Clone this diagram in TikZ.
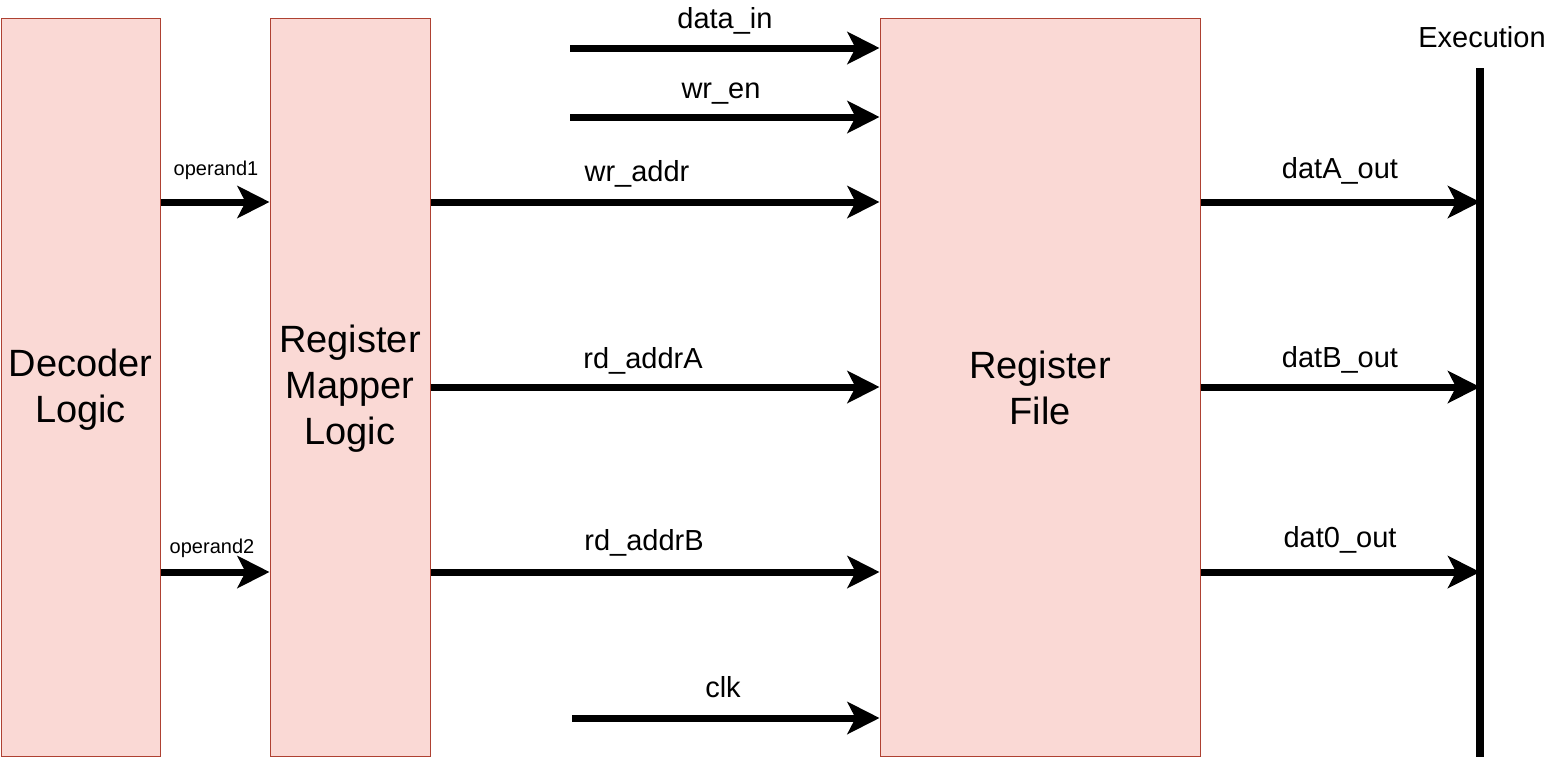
\documentclass[tikz,border=0pt]{standalone}
\usepackage{fontspec}
\setmainfont{Liberation Sans}
\usetikzlibrary{arrows.meta}
\definecolor{boxfill}{HTML}{FAD9D5}
\definecolor{boxline}{HTML}{AE4132}
\tikzset{
  blk/.style={draw=boxline, fill=boxfill, line width=1pt, inner sep=0pt, align=center,
              minimum height=738pt},
  blktxt/.style={inner sep=0pt, align=center, font=\fontsize{38}{46}\selectfont},
  sig/.style={line width=7pt, -{Stealth[length=32pt,width=32pt,inset=8pt]}},
  lbl/.style={anchor=base, inner sep=0pt, font=\fontsize{29}{34}\selectfont},
  slbl/.style={anchor=base, inner sep=0pt, font=\fontsize{20}{24}\selectfont},
  bar/.style={line width=8pt}
}
\begin{document}
\begin{tikzpicture}[x=1pt,y=-1pt]
\useasboundingbox (0,0) rectangle (1549,766);
% blocks
\node[blk, minimum width=159pt] (dec) at (80.5,387) {};
\node[blk, minimum width=160pt] (map) at (350,387) {};
\node[blk, minimum width=320pt] (rf) at (1040,387) {};
\node[blktxt] (dect) at (80.5,390) {Decoder\\Logic};
\node[blktxt] (mapt) at (350,389) {Register\\Mapper\\Logic};
\node[blktxt] (rft) at (1040,388) {Register\\File};
% execution bar
\coordinate (extop) at (1480,68);
\coordinate (exbot) at (1480,757);
\draw[bar] (extop) -- (exbot);
\node[lbl] (exlbl) at (1482,47) {Execution};
% row coordinates
\coordinate (r0) at (0,48);
\coordinate (r1) at (0,117);
\coordinate (r2) at (0,202);
\coordinate (r3) at (0,387);
\coordinate (r4) at (0,572);
\coordinate (r5) at (0,718);
% free starts
\coordinate (din) at (570,48);
\coordinate (wen) at (570,117);
\coordinate (clk) at (572,718);
% operand arrows
\draw[sig] (dec.east |- r2) -- (map.west |- r2);
\draw[sig] (dec.east |- r4) -- (map.west |- r4);
\node[slbl] (op1) at (216,175) {operand1};
\node[slbl] (op2) at (212,553) {operand2};
% register file inputs
\draw[sig] (din) -- (rf.west |- r0);
\draw[sig] (wen) -- (rf.west |- r1);
\draw[sig] (map.east |- r2) -- (rf.west |- r2);
\draw[sig] (map.east |- r3) -- (rf.west |- r3);
\draw[sig] (map.east |- r4) -- (rf.west |- r4);
\draw[sig] (clk) -- (rf.west |- r5);
\node[lbl] (l0) at (725,28) {data\_in};
\node[lbl] (l1) at (721,98) {wr\_en};
\node[lbl] (l2) at (637,181) {wr\_addr};
\node[lbl] (l3) at (643,368) {rd\_addrA};
\node[lbl] (l4) at (644,550) {rd\_addrB};
\node[lbl] (l5) at (723,697) {clk};
% outputs
\draw[sig] (rf.east |- r2) -- (extop |- r2);
\draw[sig] (rf.east |- r3) -- (extop |- r3);
\draw[sig] (rf.east |- r4) -- (extop |- r4);
\node[lbl] (o1) at (1340,178) {datA\_out};
\node[lbl] (o2) at (1340,367) {datB\_out};
\node[lbl] (o3) at (1340,547) {dat0\_out};
\end{tikzpicture}
\end{document}
